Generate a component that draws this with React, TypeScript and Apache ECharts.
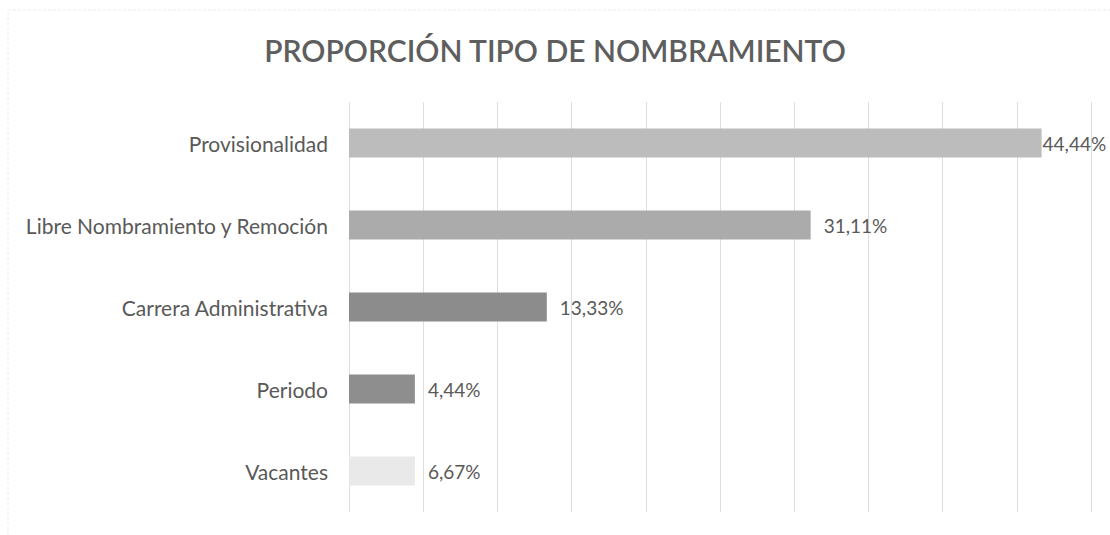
import React, { useEffect, useRef } from "react";
import * as echarts from "echarts";

const categories = [
  "Provisionalidad",
  "Libre Nombramiento y Remoción",
  "Carrera Administrativa",
  "Periodo",
  "Vacantes",
];
// bar lengths as drawn in the picture (percent)
const barValues = [46.67, 31.11, 13.33, 4.44, 4.44];
// labels as printed in the picture
const labelTexts = ["44,44%", "31,11%", "13,33%", "4,44%", "6,67%"];
const xTicks = [0, 5, 10, 15, 20, 25, 30, 35, 40, 45, 50];

const barColors = ["#bcbcbc", "#ababab", "#8c8c8c", "#8e8e8e", "#e9e9e9"];
const FONT = "Lato, 'Open Sans', sans-serif";
const TEXT = "#595959";

export default function App() {
  const ref = useRef<HTMLDivElement>(null);
  useEffect(() => {
    if (!ref.current) return;
    const chart = echarts.init(ref.current, undefined, { renderer: "svg" });
    chart.setOption({
      animation: false,
      backgroundColor: "#ffffff",
      title: {
        text: "PROPORCIÓN TIPO DE NOMBRAMIENTO",
        left: "center",
        top: 30,
        textStyle: {
          fontFamily: FONT,
          fontSize: 30,
          fontWeight: 600,
          color: "#5e5e5e",
        },
      },
      graphic: [
        {
          type: "rect",
          shape: { x: 8, y: 10, width: 1200, height: 600 },
          style: { fill: "none", stroke: "#ececec", lineWidth: 1, lineDash: [3, 2] },
          silent: true,
        },
      ],
      grid: { left: 349, right: 19, top: 102, bottom: 23 },
      xAxis: {
        type: "value",
        min: xTicks[0],
        max: xTicks[xTicks.length - 1],
        interval: xTicks[1] - xTicks[0],
        axisLabel: { show: false },
        axisLine: { show: false },
        axisTick: { show: false },
        splitLine: { show: true, lineStyle: { color: "#dedede", width: 1 } },
      },
      yAxis: {
        type: "category",
        data: categories,
        inverse: true,
        axisLine: { show: false },
        axisTick: { show: false },
        axisLabel: {
          margin: 21,
          fontFamily: FONT,
          fontSize: 21,
          color: TEXT,
        },
      },
      series: [
        {
          type: "bar",
          barWidth: 29,
          data: barValues.map((v, i) => ({
            value: v,
            itemStyle: { color: barColors[i] },
            label: {
              show: true,
              position: "right",
              distance: i === 0 ? 1 : 13,
              formatter: () => labelTexts[i],
              fontFamily: FONT,
              fontSize: 19,
              color: TEXT,
            },
          })),
        },
      ],
    });
    return () => chart.dispose();
  }, []);
  return (
    <div
      ref={ref}
      style={{ position: "fixed", left: 0, top: 0, width: 1110, height: 535 }}
    />
  );
}
